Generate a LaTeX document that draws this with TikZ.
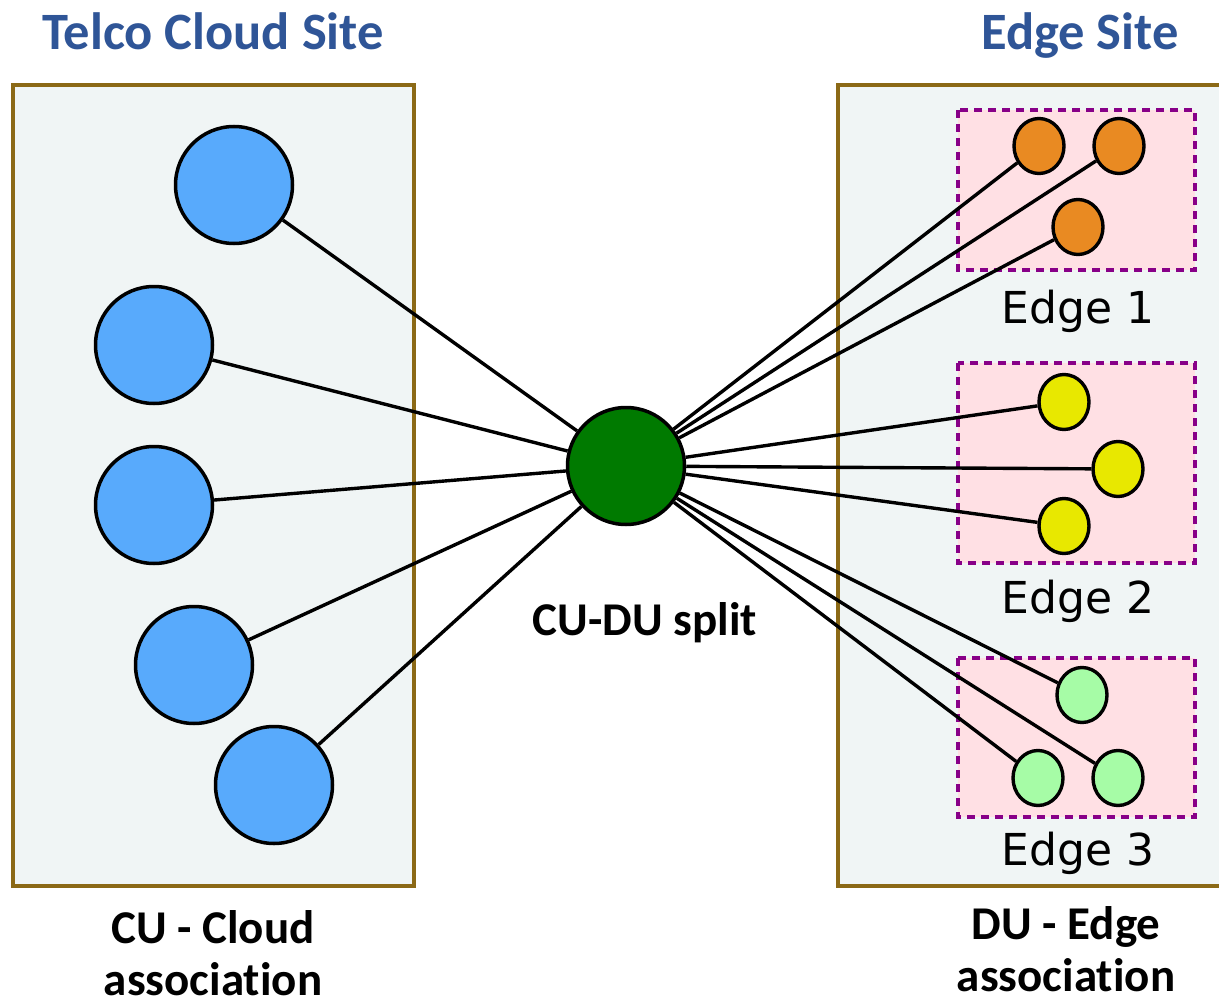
\documentclass[tikz,border=0pt]{standalone}
\usepackage{fontspec}
\setmainfont[Ligatures=NoCommon]{Carlito}
\newfontfamily\dejavu{DejaVu Sans}
\usetikzlibrary{shapes.geometric}

\definecolor{siteblue}{RGB}{47,85,151}
\definecolor{sitefill}{RGB}{240,245,245}
\definecolor{siteframe}{RGB}{139,105,22}
\definecolor{cublue}{RGB}{88,170,252}
\definecolor{hubgreen}{RGB}{0,122,0}
\definecolor{duorange}{RGB}{233,138,34}
\definecolor{duyellow}{RGB}{232,232,0}
\definecolor{dugreen}{RGB}{166,252,166}
\definecolor{zonefill}{RGB}{255,224,228}
\definecolor{zoneframe}{RGB}{136,0,136}

\tikzset{
  site/.style={fill=sitefill, draw=siteframe, line width=3.8pt},
  zone/.style={fill=zonefill, draw=zoneframe, line width=3.4pt, dash pattern=on 8pt off 6pt},
  cunode/.style={circle, draw=black, line width=3.5pt, fill=cublue, minimum size=117pt, inner sep=0pt},
  hubnode/.style={circle, draw=black, line width=3.5pt, fill=hubgreen, minimum size=117pt, inner sep=0pt},
  dunode/.style={ellipse, draw=black, line width=3.4pt, minimum width=50pt, minimum height=55pt, inner sep=0pt},
  link/.style={draw=black, line width=3.4pt},
  title/.style={font=\fontsize{52.5}{60}\selectfont\bfseries, text=siteblue, anchor=base, inner sep=0pt},
  caption/.style={font=\fontsize{47}{52}\selectfont\bfseries, text=black, anchor=base, inner sep=0pt, align=center},
  zonelabel/.style={font=\dejavu\fontsize{44}{50}\selectfont, text=black, anchor=base, inner sep=0pt}
}

\begin{document}
\begin{tikzpicture}[x=1pt,y=-1pt]
\useasboundingbox (0,0) rectangle (1219,1006);

% site frames
\path[site] (13,85) rectangle (414,886);
\fill[sitefill] (838,85) rectangle (1219,886);
\draw[siteframe, line width=3.8pt] (1219,85) -- (838,85) -- (838,886) -- (1219,886);

% edge zones
\path[zone] (958,110) rectangle (1195,270);
\path[zone] (958,363) rectangle (1195,563);
\path[zone] (958,658) rectangle (1195,817);

% titles and captions (a two-line caption sits on its last baseline)
\node[title] (tcloud) at (213,50) {Telco Cloud Site};
\node[title] (tedge) at (1080,50) {Edge Site};
\node[caption] (ccloud) at (213,995) {CU - Cloud\\association};
\node[caption] (cedge) at (1066,991) {DU - Edge\\association};
\node[caption] (csplit) at (645,635) {CU-DU split};

\node[zonelabel] (z1) at (1078,323) {Edge 1};
\node[zonelabel] (z2) at (1078,613) {Edge 2};
\node[zonelabel] (z3) at (1078,865) {Edge 3};

% central units
\node[cunode] (cu1) at (234,185) {};
\node[cunode] (cu2) at (154,345) {};
\node[cunode] (cu3) at (154,505) {};
\node[cunode] (cu4) at (194,665) {};
\node[cunode] (cu5) at (274,785) {};

% split point
\node[hubnode] (hub) at (626,466) {};

% distributed units
\node[dunode, fill=duorange] (a1) at (1039,146) {};
\node[dunode, fill=duorange] (a2) at (1119,146) {};
\node[dunode, fill=duorange] (a3) at (1078,227) {};
\node[dunode, fill=duyellow] (b1) at (1064,402) {};
\node[dunode, fill=duyellow] (b2) at (1118,469) {};
\node[dunode, fill=duyellow] (b3) at (1064,526) {};
\node[dunode, fill=dugreen] (c1) at (1082,695) {};
\node[dunode, fill=dugreen] (c2) at (1038,778) {};
\node[dunode, fill=dugreen] (c3) at (1118,778) {};

% links
\foreach \n in {cu1,cu2,cu3,cu4,cu5,a1,a2,a3,b1,b2,b3,c1,c2,c3}
  \draw[link] (hub) -- (\n);
\end{tikzpicture}
\end{document}
